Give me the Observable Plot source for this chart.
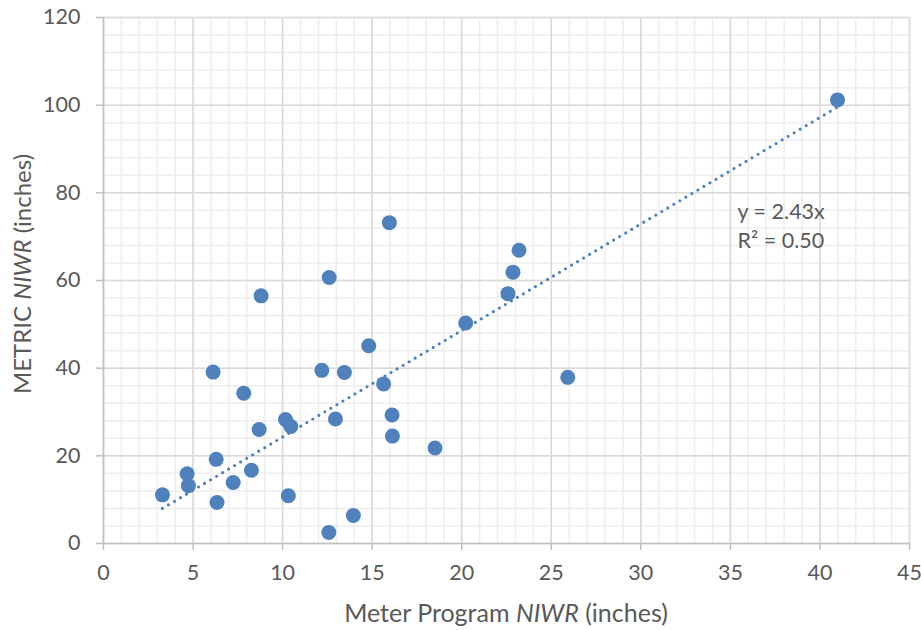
<!DOCTYPE html>
<html>
<head>
<meta charset="utf-8">
<script src="https://cdn.jsdelivr.net/npm/d3@7"></script>
<script src="https://cdn.jsdelivr.net/npm/@observablehq/plot@0.6"></script>
<style>
  html, body { margin: 0; padding: 0; background: #fff; }
  #chart { width: 921px; height: 630px; }
</style>
</head>
<body>
<div id="chart"></div>
<script>
// Meter Program NIWR (inches)
const meterNIWR = [40.98, 15.96, 23.2, 22.86, 22.58, 12.6, 8.8, 20.22, 14.81, 12.19, 13.45,
  6.12, 15.64, 25.92, 7.83, 16.11, 10.16, 12.95, 10.46, 8.69, 16.13, 18.51, 6.29, 8.26,
  4.67, 4.74, 7.24, 3.29, 10.32, 6.34, 13.95, 12.58];
// METRIC NIWR (inches)
const metricNIWR = [101.2, 73.2, 66.9, 61.9, 57.0, 60.7, 56.5, 50.3, 45.1, 39.5, 39.0,
  39.1, 36.4, 37.9, 34.3, 29.3, 28.3, 28.4, 26.7, 26.0, 24.5, 21.8, 19.2, 16.7,
  15.9, 13.2, 13.9, 11.1, 10.9, 9.35, 6.4, 2.5];
const xTicks = [0, 5, 10, 15, 20, 25, 30, 35, 40, 45];
const yTicks = [0, 20, 40, 60, 80, 100, 120];
const trendSlope = 2.43;
const trendLabel = ["y = 2.43x", "R² = 0.50"];
const labelAnchor = {x: 35.4, y: [75.5, 69.1]};

const points = meterNIWR.map((x, i) => ({x, y: metricNIWR[i]}));
const [xmin, xmax] = d3.extent(meterNIWR);
const trend = [xmin, xmax].map(x => ({x, y: trendSlope * x}));
const labels = trendLabel.map((t, i) => ({t, x: labelAnchor.x, y: labelAnchor.y[i]}));

const blue = "#4f81bd";
const textColor = "#595959";
const font = "Lato, 'Open Sans', sans-serif";

const svg = Plot.plot({
  width: 921,
  height: 630,
  marginLeft: 103,
  marginRight: 12,
  marginTop: 17,
  marginBottom: 87,
  style: {fontFamily: font, fontSize: "21.5px", color: textColor, background: "#fff"},
  x: {domain: [0, 45], ticks: xTicks, tickSize: 7, tickPadding: 14, label: null},
  y: {domain: [0, 120], ticks: yTicks, tickSize: 7, tickPadding: 16, label: null},
  marks: [
    Plot.gridX(d3.range(0, 46, 1), {stroke: "#eeeeee", strokeOpacity: 1, strokeWidth: 1.5}),
    Plot.gridY(d3.range(0, 121, 4), {stroke: "#eeeeee", strokeOpacity: 1, strokeWidth: 1.5}),
    Plot.gridX(xTicks, {stroke: "#d9d9d9", strokeOpacity: 1, strokeWidth: 1.5}),
    Plot.gridY(yTicks, {stroke: "#d9d9d9", strokeOpacity: 1, strokeWidth: 1.5}),
    Plot.axisX({ticks: xTicks, tickSize: 7, tickPadding: 14, stroke: "#bfbfbf", strokeWidth: 1.5, fill: textColor, label: null}),
    Plot.axisY({ticks: yTicks, tickSize: 7, tickPadding: 16, stroke: "#bfbfbf", strokeWidth: 1.5, fill: textColor, label: null}),
    Plot.ruleY([0], {stroke: "#bfbfbf", strokeWidth: 1.5}),
    Plot.ruleX([0], {stroke: "#bfbfbf", strokeWidth: 1.5}),
    Plot.line(trend, {x: "x", y: "y", stroke: blue, strokeWidth: 3.2, strokeDasharray: "0 7", strokeLinecap: "round"}),
    Plot.dot(points, {x: "x", y: "y", r: 7.5, fill: blue, stroke: "none"}),
    Plot.text(labels, {x: "x", y: "y", text: "t", textAnchor: "start", fill: textColor, fontSize: 21.5})
  ]
});

const s = d3.select(svg);
// x axis title
const xt = s.append("text")
  .attr("x", 506).attr("y", 622)
  .attr("text-anchor", "middle")
  .attr("fill", textColor)
  .style("font-size", "25px");
xt.append("tspan").text("Meter Program ");
xt.append("tspan").style("font-style", "italic").text("NIWR");
xt.append("tspan").text(" (inches)");
// y axis title
const yt = s.append("text")
  .attr("transform", "translate(31,274) rotate(-90)")
  .attr("text-anchor", "middle")
  .attr("fill", textColor)
  .style("font-size", "24px");
yt.append("tspan").text("METRIC ");
yt.append("tspan").style("font-style", "italic").text("NIWR");
yt.append("tspan").text(" (inches)");

document.getElementById("chart").appendChild(svg);
</script>
</body>
</html>
